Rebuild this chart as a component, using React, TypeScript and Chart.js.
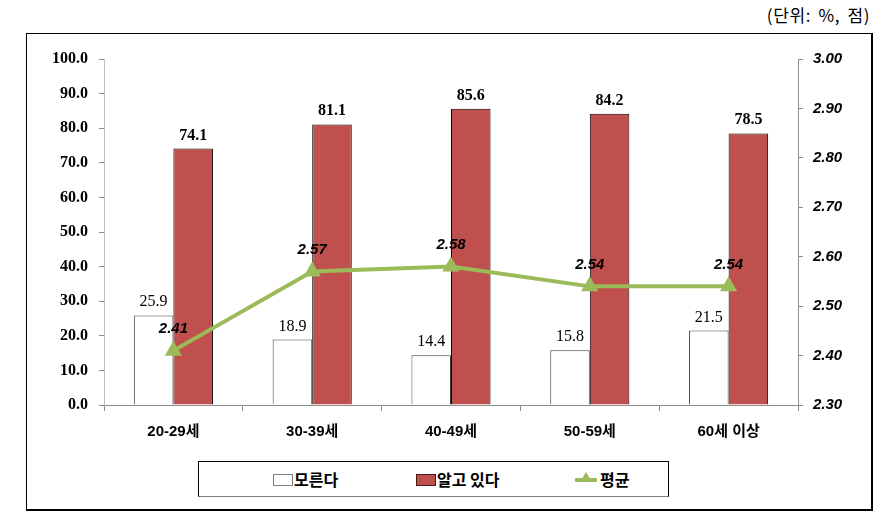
import React, { useEffect, useRef } from "react";
import { Chart, registerables } from "chart.js";

Chart.register(...registerables);

const categories = ["20-29세", "30-39세", "40-49세", "50-59세", "60세 이상"];
const unknownValues = [25.9, 18.9, 14.4, 15.8, 21.5];
const knownValues = [74.1, 81.1, 85.6, 84.2, 78.5];
const averageValues = [2.41, 2.57, 2.58, 2.54, 2.54];
const seriesNames = ["모른다", "알고 있다", "평균"];
const unitText = "(단위: %, 점)";

const RED = "#C0504D";
const GREEN = "#9BBB59";
const AXIS = "#8C8C8C";

const labelPlugin = {
  id: "valueLabels",
  afterDatasetsDraw(chart: any) {
    const ctx = chart.ctx;
    ctx.save();
    chart.data.datasets.forEach((ds: any, di: number) => {
      const meta = chart.getDatasetMeta(di);
      meta.data.forEach((el: any, i: number) => {
        const v = ds.data[i];
        ctx.fillStyle = "#000";
        ctx.textAlign = "center";
        if (ds.type === "line") {
          ctx.font = "italic bold 15px 'Liberation Sans', Arial, sans-serif";
          ctx.textBaseline = "middle";
          ctx.fillText(v.toFixed(2), el.x, el.y - 22);
        } else {
          ctx.font =
            (ds.label === seriesNames[1] ? "bold " : "") + "16px 'Liberation Serif', 'Times New Roman', serif";
          ctx.textBaseline = "alphabetic";
          ctx.fillText(v.toFixed(1), el.x, el.y - 9);
        }
      });
    });
    ctx.restore();
  },
};

export default function App() {
  const ref = useRef<HTMLCanvasElement | null>(null);

  useEffect(() => {
    document.body.style.margin = "0";
    if (!ref.current) return;
    const chart = new Chart(ref.current, {
      type: "bar",
      data: {
        labels: categories,
        datasets: [
          {
            type: "line",
            label: seriesNames[2],
            data: averageValues,
            yAxisID: "y2",
            borderColor: GREEN,
            backgroundColor: GREEN,
            borderWidth: 4,
            pointStyle: "triangle",
            pointRadius: 6,
            pointBackgroundColor: GREEN,
            pointBorderColor: GREEN,
            tension: 0,
            order: 0,
          } as any,
          {
            type: "bar",
            label: seriesNames[0],
            data: unknownValues,
            yAxisID: "y",
            backgroundColor: "#FFFFFF",
            borderColor: "#404040",
            borderWidth: 1,
            categoryPercentage: 0.57,
            barPercentage: 1.0,
            order: 1,
          },
          {
            type: "bar",
            label: seriesNames[1],
            data: knownValues,
            yAxisID: "y",
            backgroundColor: RED,
            borderColor: "#000000",
            borderWidth: 1,
            categoryPercentage: 0.57,
            barPercentage: 1.0,
            order: 1,
          },
        ],
      },
      options: {
        responsive: false,
        animation: false,
        layout: { padding: { top: 59, left: 0, right: 0, bottom: 0 } },
        plugins: {
          legend: { display: false },
          tooltip: { enabled: false },
        },
        scales: {
          x: {
            grid: {
              drawOnChartArea: false,
              drawTicks: true,
              tickLength: 6,
              color: AXIS,
              offset: true,
            },
            border: { display: true, color: AXIS, width: 1 },
            ticks: {
              color: "#000",
              font: { family: "'Liberation Sans', 'Noto Sans CJK KR', sans-serif", size: 15, weight: "bold" },
              padding: 12,
            },
            afterFit: (s: any) => {
              s.height = 117;
            },
          },
          y: {
            position: "left",
            min: 0,
            max: 100,
            ticks: {
              stepSize: 10,
              color: "#000",
              padding: 11,
              font: { family: "'Liberation Serif', 'Times New Roman', serif", size: 16, weight: "bold" },
              callback: (v: any) => Number(v).toFixed(1),
            },
            grid: { drawOnChartArea: false, drawTicks: true, tickLength: 5, color: AXIS },
            border: { display: true, color: "#BFBFBF", width: 1 },
            afterFit: (s: any) => {
              s.width = 104;
            },
          },
          y2: {
            position: "right",
            min: 2.3,
            max: 3.0,
            ticks: {
              stepSize: 0.1,
              color: "#000",
              padding: 10,
              font: { family: "'Liberation Sans', Arial, sans-serif", size: 15, weight: "bold", style: "italic" },
              callback: (v: any) => Number(v).toFixed(2),
            },
            grid: { drawOnChartArea: false, drawTicks: true, tickLength: 5, color: AXIS },
            border: { display: true, color: AXIS, width: 1 },
            afterFit: (s: any) => {
              s.width = 98;
            },
          },
        },
      } as any,
      plugins: [labelPlugin],
    });
    return () => chart.destroy();
  }, []);

  const legendFont = "bold 16px 'Noto Sans CJK KR', 'Liberation Sans', sans-serif";

  return (
    <div style={{ position: "absolute", left: 0, top: 0, width: 896, height: 522, background: "#fff" }}>
      <div
        style={{
          position: "absolute",
          left: 700,
          top: 3,
          width: 170,
          textAlign: "right",
          font: "17px 'Noto Sans CJK KR', 'Liberation Sans', sans-serif",
          letterSpacing: "0.6px",
          wordSpacing: "3px",
          color: "#000",
          lineHeight: "24px",
        }}
      >
        {unitText}
      </div>
      <div
        style={{
          position: "absolute",
          left: 26,
          top: 33,
          width: 844,
          height: 475,
          borderTop: "1px solid #000",
          borderLeft: "1px solid #000",
          borderRight: "2px solid #000",
          borderBottom: "2px solid #000",
        }}
      />
      <canvas ref={ref} width={896} height={522} style={{ position: "absolute", left: 0, top: 0 }} />
      <div
        style={{
          position: "absolute",
          left: 198,
          top: 461,
          width: 469,
          height: 34,
          borderTop: "1px solid #000",
          borderLeft: "1px solid #000",
          borderRight: "1px solid #000",
          borderBottom: "1px solid #808080",
          background: "#fff",
        }}
      >
        <div style={{ position: "absolute", left: 74, top: 12, width: 18, height: 10, border: "1px solid #808080", background: "#fff" }} />
        <div style={{ position: "absolute", left: 95, top: 5, font: legendFont, lineHeight: "24px", color: "#000" }}>
          {seriesNames[0]}
        </div>
        <div style={{ position: "absolute", left: 217, top: 12, width: 18, height: 10, border: "1px solid #4a1a18", background: RED }} />
        <div style={{ position: "absolute", left: 238, top: 5, font: legendFont, lineHeight: "24px", color: "#000" }}>
          {seriesNames[1]}
        </div>
        <div style={{ position: "absolute", left: 376, top: 16, width: 22, height: 4, background: GREEN }} />
        <div
          style={{
            position: "absolute",
            left: 381,
            top: 10,
            width: 0,
            height: 0,
            borderLeft: "6px solid transparent",
            borderRight: "6px solid transparent",
            borderBottom: "10px solid " + GREEN,
          }}
        />
        <div style={{ position: "absolute", left: 401, top: 5, font: legendFont, lineHeight: "24px", color: "#000" }}>
          {seriesNames[2]}
        </div>
      </div>
    </div>
  );
}
